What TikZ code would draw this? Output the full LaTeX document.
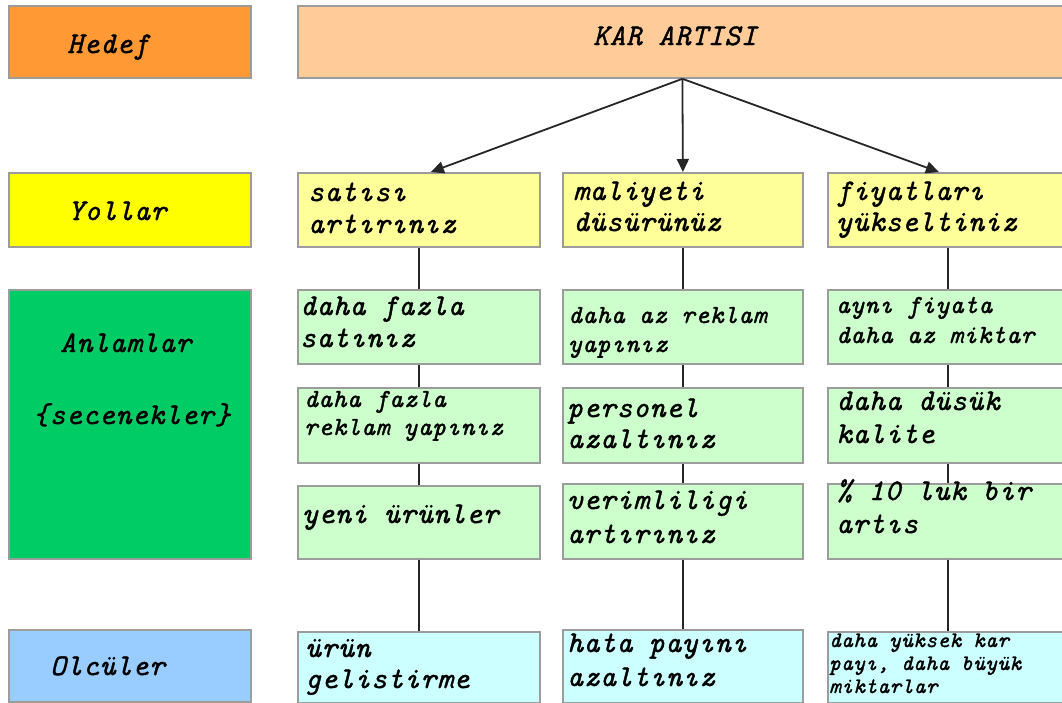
\documentclass[tikz,border=0pt]{standalone}
\usepackage{fontspec}
\newfontfamily\cour{lmmono10-italic.otf}[LetterSpace=2.5, FakeBold=1.3]
\newcommand{\fs}[2]{\cour\fontsize{#1}{#2}\selectfont}
\usetikzlibrary{arrows.meta,calc}
\definecolor{bord}{HTML}{9C9C9C}
\definecolor{hedefc}{HTML}{FF9933}
\definecolor{karc}{HTML}{FFCC99}
\definecolor{yolc}{HTML}{FFFF00}
\definecolor{yolbox}{HTML}{FFFF99}
\definecolor{anlc}{HTML}{00CC66}
\definecolor{anlbox}{HTML}{CCFFCC}
\definecolor{olcc}{HTML}{99CCFF}
\definecolor{olcbox}{HTML}{CCFFFF}
\tikzset{
  box/.style={draw=bord, line width=1.8pt, inner sep=0pt, anchor=north west},
  txt/.style={anchor=base west, inner sep=0pt, align=left},
  conn/.style={draw=black!85, line width=1.8pt},
  arr/.style={conn, -{Triangle[length=13pt,width=12pt]}}
}
\begin{document}
\begin{tikzpicture}[x=1pt,y=-1pt]
\useasboundingbox[fill=white] (0,0) rectangle (1062,702);
% left column
\node[box, fill=hedefc, minimum width=242pt, minimum height=72pt] (hedef) at (8,5) {};
\node[box, fill=yolc, minimum width=242pt, minimum height=74pt] (yollar) at (8,172) {};
\node[box, fill=anlc, minimum width=242pt, minimum height=269pt] (anlamlar) at (8,289) {};
\node[box, fill=olcc, minimum width=242pt, minimum height=72pt] (olculer) at (8,629) {};
% goal
\node[box, fill=karc, minimum width=769pt, minimum height=72pt] (kar) at (297,5) {};
% ways
\node[box, fill=yolbox, minimum width=242pt, minimum height=74pt] (y1) at (297,172) {};
\node[box, fill=yolbox, minimum width=240pt, minimum height=74pt] (y2) at (562,172) {};
\node[box, fill=yolbox, minimum width=240pt, minimum height=74pt] (y3) at (827,172) {};
% options
\node[box, fill=anlbox, minimum width=242pt, minimum height=74pt] (a11) at (297,289) {};
\node[box, fill=anlbox, minimum width=240pt, minimum height=74pt] (a12) at (562,289) {};
\node[box, fill=anlbox, minimum width=240pt, minimum height=74pt] (a13) at (827,289) {};
\node[box, fill=anlbox, minimum width=242pt, minimum height=75pt] (a21) at (297,387) {};
\node[box, fill=anlbox, minimum width=240pt, minimum height=75pt] (a22) at (562,387) {};
\node[box, fill=anlbox, minimum width=240pt, minimum height=75pt] (a23) at (827,387) {};
\node[box, fill=anlbox, minimum width=242pt, minimum height=73pt] (a31) at (297,485) {};
\node[box, fill=anlbox, minimum width=240pt, minimum height=75pt] (a32) at (562,483) {};
\node[box, fill=anlbox, minimum width=240pt, minimum height=75pt] (a33) at (827,483) {};
% measures
\node[box, fill=olcbox, minimum width=242pt, minimum height=71pt] (o1) at (297,631) {};
\node[box, fill=olcbox, minimum width=240pt, minimum height=73pt] (o2) at (562,629) {};
\node[box, fill=olcbox, minimum width=240pt, minimum height=71pt] (o3) at (827,631) {};
% connectors
\draw[arr] (kar.south) -- ([xshift=12pt]y1.north);
\draw[arr] (kar.south) -- (y2.north);
\draw[arr] (kar.south) -- ([xshift=-9pt]y3.north);
\foreach \c in {1,2,3}{
  \draw[conn] (y\c.south) -- (a1\c.north);
  \draw[conn] (a1\c.south) -- (a2\c.north);
  \draw[conn] (a2\c.south) -- (a3\c.north);
  \draw[conn] (a3\c.south) -- (o\c.north);
}
% texts (anchor = baseline of the last line)
\node[txt, font=\fs{30}{32}] (thedef) at (67,53) {Hedef};
\node[txt, font=\fs{30}{32}] (tkar) at (593,45) {KAR ARTISI};
\node[txt, font=\fs{30}{32}] (tyollar) at (68,220) {Yollar};
\node[txt, font=\fs{30}{32}] (tanl) at (60,352) {Anlamlar};
\node[txt, font=\fs{30}{32}] (tsec) at (33,424) {\{secenekler\}};
\node[txt, font=\fs{30}{32}] (tolc) at (50,675) {Olcüler};
\node[txt, font=\fs{30}{32}] (ty1) at (308,233) {satısı\\artırınız};
\node[txt, font=\fs{30}{31}] (ty2) at (573,231) {maliyeti\\düsürünüz};
\node[txt, font=\fs{30}{31}] (ty3) at (836,231) {fiyatları\\yükseltiniz};
\node[txt, font=\fs{30}{32}] (ta11) at (300,347) {daha fazla\\satınız};
\node[txt, font=\fs{26}{29}] (ta12) at (568,352) {daha az reklam\\yapınız};
\node[txt, font=\fs{26}{30}] (ta13) at (836,343) {aynı fiyata\\daha az miktar};
\node[txt, font=\fs{26}{28}] (ta21) at (304,435) {daha fazla\\reklam yapınız};
\node[txt, font=\fs{30}{31}] (ta22) at (567,448) {personel\\azaltınız};
\node[txt, font=\fs{30}{33}] (ta23) at (836,443) {daha düsük\\kalite};
\node[txt, font=\fs{30}{32}] (ta31) at (302,523) {yeni ürünler};
\node[txt, font=\fs{30}{34}] (ta32) at (567,543) {verimliligi\\artırınız};
\node[txt, font=\fs{30}{33}] (ta33) at (836,533) {\% 10 luk bir\\artıs};
\node[txt, font=\fs{30}{31}] (to1) at (305,688) {ürün\\gelistirme};
\node[txt, font=\fs{30}{34}] (to2) at (567,686) {hata payını\\azaltınız};
\node[txt, font=\fs{22}{23}] (to3) at (829,693) {daha yüksek kar\\payı, daha büyük\\miktarlar};
\end{tikzpicture}
\end{document}
